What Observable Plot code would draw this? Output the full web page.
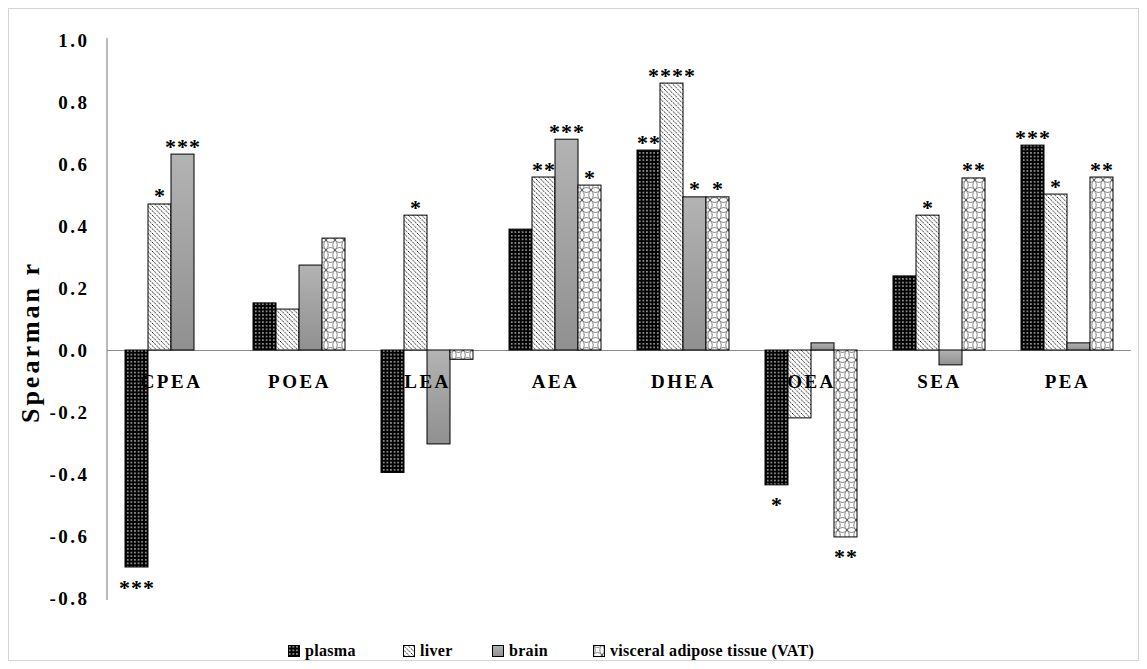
<!DOCTYPE html>
<html><head><meta charset="utf-8">
<script src="https://cdn.jsdelivr.net/npm/d3@7"></script>
<script src="https://cdn.jsdelivr.net/npm/@observablehq/plot@0.6"></script>
<style>
body{margin:0;background:#fff;font-family:"Liberation Serif","Times New Roman",serif;}
#frame{position:absolute;left:8px;top:8px;width:1131px;height:653px;border:1px solid #d4d4d4;box-sizing:border-box;}
#chart{position:absolute;left:0;top:0;}
#legend{position:absolute;top:642px;left:0;width:1147px;height:22px;font-family:"Liberation Serif","Times New Roman",serif;font-weight:bold;font-size:16px;letter-spacing:0.3px;color:#000;}
.item{position:absolute;top:0;display:flex;align-items:center;white-space:nowrap;}
.item svg{margin-right:5px;}
</style>
</head><body>
<div id="frame"></div>
<div id="chart"></div>
<div id="legend"></div>
<script>
const categories = ["CPEA","POEA","LEA","AEA","DHEA","OEA","SEA","PEA"];
const tissues = ["plasma","liver","brain","visceral adipose tissue (VAT)"];
const plasma = [-0.70, 0.152, -0.395, 0.39, 0.645, -0.435, 0.239, 0.661];
const liver  = [0.471, 0.132, 0.435, 0.558, 0.861, -0.219, 0.435, 0.503];
const brain  = [0.632, 0.274, -0.303, 0.68, 0.494, 0.023, -0.048, 0.023];
const vat    = [null, 0.361, -0.03, 0.532, 0.494, -0.603, 0.555, 0.558];
const sigPlasma = ["***","","","","**","*","","***"];
const sigLiver  = ["*","","*","**","****","","*","*"];
const sigBrain  = ["***","","","***","*","","",""];
const sigVat    = ["","","","*","*","**","**","**"];
const yTicks = [-0.8,-0.6,-0.4,-0.2,0.0,0.2,0.4,0.6,0.8,1.0];
const patternFills = ["url(#pPlasma)","url(#pLiver)","url(#pBrain)","url(#pVat)"];
const legendLeft = [288, 403, 492, 593];

const series = [plasma, liver, brain, vat];
const sigs = [sigPlasma, sigLiver, sigBrain, sigVat];
const rows = [];
categories.forEach((c,i)=>tissues.forEach((t,j)=>{
  const v = series[j][i];
  if (v !== null) rows.push({cat:c, tissue:t, value:v, sig:sigs[j][i]});
}));
const starsPos = rows.filter(r=>r.sig && r.value>=0);
const starsNeg = rows.filter(r=>r.sig && r.value<0);
const catRows = categories.map(c=>({cat:c, value:0}));

const defs = `
<pattern id="pPlasma" patternUnits="userSpaceOnUse" width="3.6" height="3.6">
  <rect width="3.6" height="3.6" fill="#000"/>
  <rect x="1.1" y="1.1" width="1.3" height="1.3" fill="#fff"/>
</pattern>
<pattern id="pLiver" patternUnits="userSpaceOnUse" width="4.5" height="4.5">
  <rect width="4.5" height="4.5" fill="#fff"/>
  <path d="M-1,-1 L5.5,5.5 M-1,3.5 L1,5.5 M3.5,-1 L5.5,1" stroke="#111" stroke-width="0.9" stroke-dasharray="2.2,0.9"/>
</pattern>
<linearGradient id="pBrain" x1="0" y1="0" x2="0" y2="1">
  <stop offset="0" stop-color="#b3b3b3"/>
  <stop offset="1" stop-color="#909090"/>
</linearGradient>
<pattern id="pVat" patternUnits="userSpaceOnUse" width="9" height="10">
  <rect width="9" height="10" fill="#fff"/>
  <path d="M0,0 Q4.5,5 9,0 M0,10 Q4.5,5 9,10 M0,0 Q4.5,5 0,10 M9,0 Q4.5,5 9,10" fill="none" stroke="#333" stroke-width="0.6"/>
</pattern>`;

const plot = Plot.plot({
  width:1147, height:620,
  marginLeft:107, marginRight:16, marginTop:40, marginBottom:22,
  style:{fontFamily:"'Liberation Serif', 'Times New Roman', serif", background:"transparent", overflow:"visible", color:"#000"},
  fx:{domain:categories, padding:0, axis:null},
  x:{domain:tissues, paddingInner:0, paddingOuter:0.72, axis:null},
  y:{domain:[-0.8,1.0]},
  color:{domain:tissues, range:patternFills},
  marks:[
    Plot.ruleY([0], {stroke:"#8c8c8c", strokeWidth:1.2}),
    Plot.barY(rows, {fx:"cat", x:"tissue", y:"value", fill:"tissue", stroke:"#000", strokeWidth:1}),
    Plot.text(catRows, {fx:"cat", y:"value", text:"cat", dy:31, fontSize:19, fontWeight:"bold", fill:"#000"}),
    Plot.text(starsPos, {fx:"cat", x:"tissue", y:"value", text:"sig", lineAnchor:"bottom", dy:-1, fontSize:22, fontWeight:"bold", fill:"#000"}),
    Plot.text(starsNeg, {fx:"cat", x:"tissue", y:"value", text:"sig", lineAnchor:"bottom", dy:27, fontSize:22, fontWeight:"bold", fill:"#000"}),
    Plot.axisY({ticks:yTicks, tickSize:0, tickPadding:18, tickFormat:d=>d.toFixed(1), fontSize:19, fontWeight:"bold", label:null, anchor:"left"})
  ]
});

const svg = d3.select(plot);
svg.insert("defs", ":first-child").html(defs);
svg.selectAll("text").style("letter-spacing","2.5px").style("font-family","'Liberation Serif', 'Times New Roman', serif");
svg.selectAll("text").filter(function(){ return /^\*+$/.test(this.textContent); }).style("letter-spacing","1px");
const y = plot.scale("y");
svg.append("line")
  .attr("x1",107).attr("x2",107)
  .attr("y1", y.apply(1.0)-2).attr("y2", y.apply(-0.8)+2)
  .attr("stroke","#8c8c8c").attr("stroke-width",1.2);
svg.append("text")
  .attr("transform",`translate(39,${y.apply(0)-8}) rotate(-90)`)
  .attr("text-anchor","middle")
  .attr("font-size",26).attr("font-weight","bold")
  .style("font-family","'Liberation Serif', 'Times New Roman', serif")
  .style("letter-spacing","3px")
  .text("Spearman r");
document.getElementById("chart").appendChild(plot);

const legend = d3.select("#legend");
tissues.forEach((t,j)=>{
  const it = legend.append("div").attr("class","item").style("left", legendLeft[j]+"px");
  const s = it.append("svg").attr("width",12).attr("height",12);
  s.append("defs").html(defs.replace(/id="(\w+)"/g,'id="$1L"'));
  s.append("rect").attr("x",0.5).attr("y",0.5).attr("width",11).attr("height",11)
    .attr("fill", patternFills[j].replace(")", "L)")).attr("stroke","#000").attr("stroke-width",1);
  it.append("span").text(t);
});
</script>
</body></html>
